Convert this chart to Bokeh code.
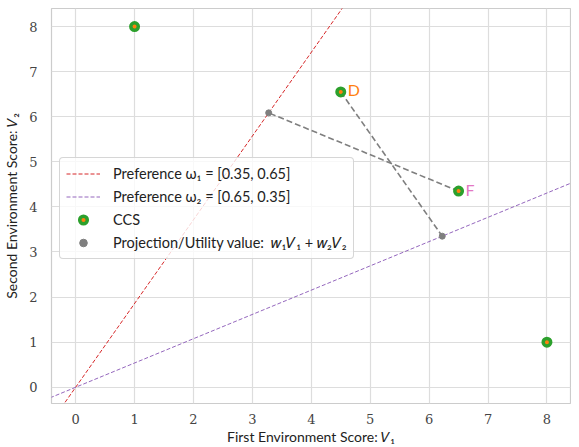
import numpy as np
from bokeh.plotting import figure
from bokeh.models import ColumnDataSource, Legend, LegendItem, Range1d
from bokeh.core.properties import value
from bokeh.embed import file_html
from bokeh.resources import INLINE

# data
ccs_x = [1.0, 4.5, 6.5, 8.0]
ccs_y = [8.0, 6.55, 4.35, 1.0]
w1 = [0.35, 0.65]
w2 = [0.65, 0.35]
label_names = ["D", "F"]
label_x = [4.5, 6.5]
label_y = [6.55, 4.35]
label_colors = ["#ff7f0e", "#e377c2"]

def proj(px, py, w):
    t = (px * w[0] + py * w[1]) / (w[0] ** 2 + w[1] ** 2)
    return t * w[0], t * w[1]

# F projected on w1, D projected on w2
pF = proj(label_x[1], label_y[1], w1)
pD = proj(label_x[0], label_y[0], w2)

p = figure(width=571, height=447, output_backend="svg", toolbar_location=None,
           x_range=Range1d(-0.41, 8.4), y_range=Range1d(-0.36, 8.4),
           min_border_left=42, min_border_right=1, min_border_top=8, min_border_bottom=34)
p.background_fill_color = "white"
p.outline_line_color = "#cccccc"
p.outline_line_width = 1.2

for ax in (p.xaxis, p.yaxis):
    ax.axis_line_color = None
    ax.major_tick_line_color = None
    ax.minor_tick_line_color = None
    ax.major_label_text_font = "'DejaVu Serif', serif"
    ax.major_label_text_font_size = "13px"
    ax.major_label_text_color = "#444444"
    ax.axis_label_text_font = "Lato"
    ax.axis_label_text_font_style = "normal"
    ax.axis_label_text_font_size = "14px"
    ax.axis_label_text_color = "#222222"
p.xaxis.ticker = list(range(0, 9))
p.yaxis.ticker = list(range(0, 9))
p.xaxis.axis_label = "First Environment Score: 𝑉₁"
p.yaxis.axis_label = "Second Environment Score: 𝑉₂"
p.xaxis.axis_label_standoff = 1
p.yaxis.axis_label_standoff = 6
p.xaxis.major_label_standoff = 4
p.yaxis.major_label_standoff = 8
p.grid.grid_line_color = "#dddddd"
p.grid.grid_line_width = 1.2

xs = np.array([-1.0, 9.0])
r1 = p.line(xs, xs * w1[1] / w1[0], line_color="#d62728", line_dash="4 2", line_width=1)
r2 = p.line(xs, xs * w2[1] / w2[0], line_color="#9467bd", line_dash="4 2", line_width=1)

# projection lines
p.line([label_x[1], pF[0]], [label_y[1], pF[1]], line_color="#7f7f7f", line_dash="6 3", line_width=1.6)
p.line([label_x[0], pD[0]], [label_y[0], pD[1]], line_color="#7f7f7f", line_dash="6 3", line_width=1.6)

rp = p.scatter([pF[0], pD[0]], [pF[1], pD[1]], size=6, color="#7f7f7f")

rg = p.scatter(ccs_x, ccs_y, size=7.5, fill_color="#ff7f0e", line_color="#2ca02c", line_width=3.5)

src = ColumnDataSource(dict(x=label_x, y=label_y, t=label_names, c=label_colors))
p.text("x", "y", text="t", source=src, text_color="c", x_offset=7, y_offset=-2,
       text_font_size="16px", text_baseline="middle", text_font=value("Lato"))

legend = Legend(items=[
    LegendItem(label="Preference ω₁ = [0.35, 0.65]", renderers=[r1]),
    LegendItem(label="Preference ω₂ = [0.65, 0.35]", renderers=[r2]),
    LegendItem(label="CCS", renderers=[rg]),
    LegendItem(label="Projection/Utility value:  𝑤₁𝑉₁ + 𝑤₂𝑉₂", renderers=[rp]),
], location=(8, 144))
legend.label_text_font = "Lato"
legend.label_text_font_size = "14.5px"
legend.label_text_color = "#222222"
legend.border_line_color = "#cccccc"
legend.border_line_alpha = 0.8
legend.border_radius = 4
legend.background_fill_alpha = 0.8
legend.padding = 6
legend.spacing = 4
legend.glyph_width = 34
legend.label_height = 19
legend.glyph_height = 19
legend.label_standoff = 13
legend.margin = 0
p.add_layout(legend, "center")

open("out.html", "w").write(file_html(p, INLINE))
